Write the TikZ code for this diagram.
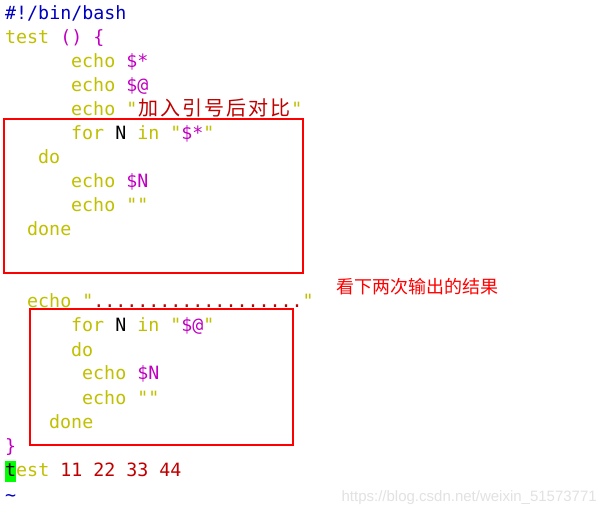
\documentclass[tikz,border=0pt]{standalone}
\usepackage{fontspec}
\newfontfamily\codefont{DejaVu Sans Mono}
\newfontfamily\cjk{Noto Sans CJK SC}
\newfontfamily\markfont{Liberation Sans}
\usetikzlibrary{positioning}

\definecolor{vimyellow}{RGB}{192,192,0}
\definecolor{vimmagenta}{RGB}{192,0,192}
\definecolor{vimred}{RGB}{192,0,0}
\definecolor{vimblue}{RGB}{0,0,192}
\definecolor{markred}{RGB}{255,0,0}
\definecolor{cursorgreen}{RGB}{0,255,0}
\definecolor{wmgray}{RGB}{226,226,226}

\newcommand{\kw}[1]{\textcolor{vimyellow}{#1}}
\newcommand{\varc}[1]{\textcolor{vimmagenta}{#1}}
\newcommand{\strc}[1]{\textcolor{vimred}{#1}}
\newcommand{\hz}[1]{\makebox[22pt][c]{\cjk\fontsize{20}{24}\selectfont #1}}

\tikzset{
  code/.style={anchor=base west, inner sep=0pt, font=\codefont\fontsize{18.3}{24}\selectfont},
  redbox/.style={draw=markred, line width=2.2pt},
}

\begin{document}
\begin{tikzpicture}[x=1pt, y=-1pt]
    \useasboundingbox (0,0) rectangle (603,513);
    \fill[white] (0,0) rectangle (603,513);

    % script, one node per line
    \node[code] (l1) at (5,20) {\textcolor{vimblue}{\#!/bin/bash}};
    \node[code] (l2) at (5,44) {\kw{test} \varc{() \{}};
    \node[code] (l3) at (71,68) {\kw{echo} \varc{\$*}};
    \node[code] (l4) at (71,92) {\kw{echo} \varc{\$@}};
    \node[code] (l5) at (71,116) {\kw{echo} \kw{"}\strc{\hz{加}\hz{入}\hz{引}\hz{号}\hz{后}\hz{对}\hz{比}}\kw{"}};
    \node[code] (l6) at (71,140) {\kw{for} N \kw{in} \kw{"}\varc{\$*}\kw{"}};
    \node[code] (l7) at (38,164) {\kw{do}};
    \node[code] (l8) at (71,188) {\kw{echo} \varc{\$N}};
    \node[code] (l9) at (71,212) {\kw{echo} \kw{""}};
    \node[code] (l10) at (27,236) {\kw{done}};
    \node[code] (l13) at (27,308) {\kw{echo} \kw{"}\strc{...................}\kw{"}};
    \node[code] (l14) at (71,332) {\kw{for} N \kw{in} \kw{"}\varc{\$@}\kw{"}};
    \node[code] (l15) at (71,356) {\kw{do}};
    \node[code] (l16) at (82,380) {\kw{echo} \varc{\$N}};
    \node[code] (l17) at (82,404) {\kw{echo} \kw{""}};
    \node[code] (l18) at (49,428) {\kw{done}};
    \node[code] (l19) at (5,452) {\varc{\}}};

    % command line with cursor
    \fill[cursorgreen] (5,461) rectangle (16,482);
    \node[code] (l20) at (5,476) {t\kw{est} \strc{11 22 33 44}};
    \node[code] (l21) at (5,501) {\textcolor{vimblue}{\textasciitilde}};

    % marks
    \draw[redbox] (4,119) rectangle (303,273);
    \draw[redbox] (30,309) rectangle (293,445);
    \node[anchor=west, inner sep=0pt, text=markred, font=\cjk\fontsize{18}{18}\selectfont] (note) at (336,287) {看下两次输出的结果};

    % watermark
    \node[anchor=base east, inner sep=0pt, text=wmgray, font=\markfont\fontsize{15}{15}\selectfont] (wm) at (597,501) {https://blog.csdn.net/weixin\_51573771};
\end{tikzpicture}
\end{document}
